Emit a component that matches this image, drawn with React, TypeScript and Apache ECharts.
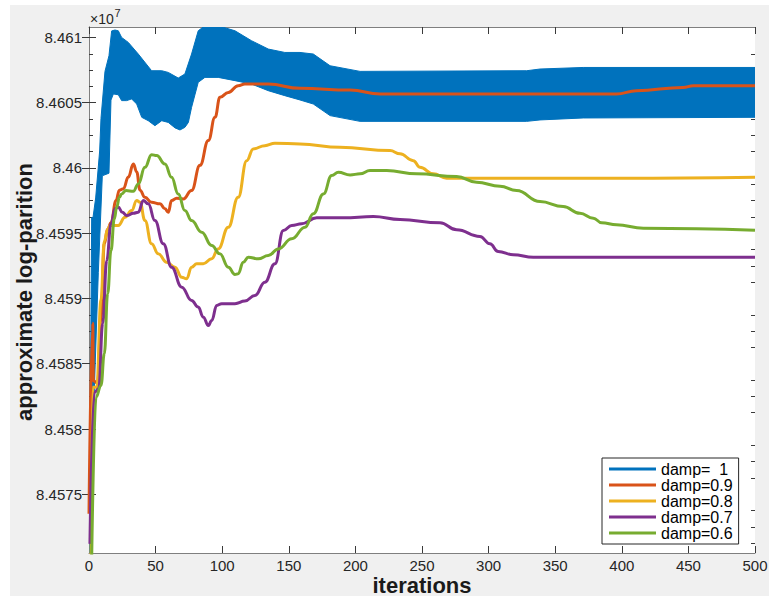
import React, { useEffect, useRef } from "react";
import * as echarts from "echarts";

// ---- data (values in units of 1e7) ----
const seriesNames = ["damp=  1", "damp=0.9", "damp=0.8", "damp=0.7", "damp=0.6"];

// damp = 1 oscillates every iteration: upper / lower envelopes of the band
const blueUpper = [
  [0.5, 8.45745], [2, 8.45962], [3, 8.45962], [5, 8.45977], [8, 8.46013], [9, 8.46038],
  [12, 8.46074], [15, 8.46086], [17, 8.46105], [19.5, 8.461057], [22, 8.461051], [24.5, 8.461],
  [29.5, 8.460962], [37, 8.460873], [47, 8.460745], [54.6, 8.460745], [59.5, 8.460732],
  [67, 8.460689], [72, 8.46072], [77, 8.460873], [82, 8.461051], [87, 8.46109], [97, 8.46109],
  [109.6, 8.461051], [122, 8.460975], [134.6, 8.460911], [147, 8.460885], [158.4, 8.460885],
  [168.4, 8.460873], [181, 8.460783], [203.5, 8.46074], [328.6, 8.460745], [338.6, 8.460758],
  [371, 8.46077], [500, 8.46077],
];
const blueLower = [
  [0.5, 8.45704], [2, 8.45757], [4, 8.4583], [7, 8.4592], [10, 8.45994], [15, 8.45996],
  [16.5, 8.46052], [18.3, 8.460567], [22, 8.460561], [24.5, 8.460516], [28.3, 8.460516],
  [32, 8.460529], [35.8, 8.46049], [39.6, 8.460388], [44.5, 8.460362], [49.5, 8.460324],
  [54.6, 8.460362], [59.5, 8.460349], [64.6, 8.460307], [68.3, 8.460291], [72, 8.460311],
  [74.6, 8.460349], [77, 8.460464], [82, 8.460656], [87, 8.460694], [97, 8.460694],
  [109.6, 8.460669], [122, 8.460643], [134.6, 8.460592], [147, 8.460554], [158.4, 8.460521],
  [168.4, 8.46049], [181, 8.460401], [203.5, 8.460357], [328.6, 8.460357], [338.6, 8.460368],
  [371, 8.460383], [500, 8.460388],
];
const damp09 = [
  [0, 8.45735], [2.8, 8.45881], [3.3, 8.45837], [6.5, 8.45835], [9, 8.45886], [11.5, 8.45942],
  [14, 8.45953], [16.5, 8.45958], [20.3, 8.45975], [22.8, 8.45983], [25.8, 8.45984],
  [29.5, 8.45993], [33.3, 8.46003], [35.8, 8.45997], [38.3, 8.45983], [42, 8.459775],
  [47, 8.459737], [53.3, 8.459725], [57, 8.459687], [59.5, 8.459661], [62, 8.45975],
  [65.8, 8.459768], [70.8, 8.459763], [77, 8.459827], [83.3, 8.46002], [89.6, 8.46021],
  [94.6, 8.460388], [98.3, 8.460541], [104.6, 8.460579], [112, 8.46063], [117, 8.460643],
  [134.6, 8.460643], [158.4, 8.46061], [196, 8.460597], [218.5, 8.460567], [396, 8.460567],
  [411, 8.460592], [446, 8.460617], [453.7, 8.46063], [500, 8.46063],
];
const damp08 = [
  [1.5, 8.45704], [2.8, 8.45832], [5.8, 8.45832], [9, 8.45899], [11.5, 8.45944], [14, 8.45953],
  [15.8, 8.459559], [22, 8.459559], [27, 8.459622], [32, 8.459674], [35.8, 8.45975],
  [38.3, 8.459737], [42, 8.459597], [47, 8.459419], [52, 8.459342], [58.3, 8.459278],
  [64.6, 8.45924], [69.6, 8.459163], [73.3, 8.459151], [77, 8.45924], [80.9, 8.459266],
  [85.8, 8.459266], [92.1, 8.459304], [97, 8.45938], [104.6, 8.459546], [112, 8.459775],
  [118.4, 8.460056], [123.3, 8.460146], [132, 8.460171], [139.6, 8.460189], [158.4, 8.460184],
  [188.4, 8.460158], [226, 8.460133], [233.5, 8.460108], [243.5, 8.460056], [248.5, 8.460005],
  [258.5, 8.459955], [268.5, 8.459921], [400, 8.459921], [500, 8.459929],
];
const damp07 = [
  [0.7, 8.45712], [4, 8.45828], [7.3, 8.45831], [10.3, 8.45881], [13.3, 8.45929], [16.5, 8.45957],
  [19.5, 8.459687], [22, 8.4597], [25, 8.45966], [28.3, 8.459635], [33.3, 8.459653],
  [37, 8.459661], [40.8, 8.45975], [44.5, 8.459725], [49.5, 8.459597], [55.8, 8.459419],
  [62, 8.45924], [69.6, 8.459087], [77, 8.458985], [82, 8.458934], [85.8, 8.458857],
  [89.6, 8.458793], [92.1, 8.458832], [95.9, 8.458947], [99.6, 8.45896], [109.6, 8.45896],
  [117, 8.45898], [124.6, 8.459023], [132, 8.459125], [139.6, 8.459266], [145.9, 8.459521],
  [152.2, 8.459559], [159.7, 8.459572], [171, 8.459618], [191, 8.459618], [213.5, 8.459628],
  [233.5, 8.459605], [263.5, 8.45958], [276, 8.459526], [293.5, 8.459475], [301, 8.459419],
  [307.2, 8.45936], [318.5, 8.459335], [333.6, 8.459316], [500, 8.459316],
];
const damp06 = [
  [2, 8.45700], [5.3, 8.458245], [9, 8.458334], [11.5, 8.458577], [14, 8.459036], [16.5, 8.459368],
  [19, 8.45961], [20.8, 8.459699], [22.8, 8.459775], [24.5, 8.459801], [27.8, 8.459827],
  [33.3, 8.459821], [37, 8.459878], [42, 8.460005], [47, 8.460102], [50.8, 8.460095],
  [57, 8.460031], [62, 8.459929], [67, 8.459801], [72, 8.459674], [77, 8.459597],
  [84.6, 8.459508], [92.1, 8.459406], [98.3, 8.459342], [104.6, 8.45924], [109.6, 8.459184],
  [112, 8.459189], [115.8, 8.459278], [119.6, 8.459316], [127.1, 8.459304], [134.6, 8.459329],
  [142.1, 8.45938], [152.2, 8.459457], [162.2, 8.459546], [168.4, 8.459649], [176, 8.459801],
  [182.2, 8.459942], [187.2, 8.459967], [196, 8.459947], [203.5, 8.459955], [211, 8.45998],
  [223.5, 8.45998], [246, 8.459955], [276, 8.459934], [291, 8.45989], [308.6, 8.45986],
  [321, 8.459827], [338.6, 8.459743], [356, 8.459704], [368.6, 8.459653], [378.6, 8.459615],
  [384.9, 8.45958], [396, 8.459565], [416.2, 8.459538], [500, 8.459523],
];

const yTickValues = [8.4575, 8.458, 8.4585, 8.459, 8.4595, 8.46, 8.4605, 8.461];
const xTickValues = [0, 50, 100, 150, 200, 250, 300, 350, 400, 450, 500];
const Y_MIN = 8.45705;
const Y_MAX = 8.46108;

const COLORS = ["#0072BD", "#D95319", "#EDB120", "#7E2F8E", "#77AC30"];
const FONT = "'Liberation Sans', Arial, Helvetica, sans-serif";

const yMinorTicks: number[] = [];
for (let i = -1; i < yTickValues.length; i++) {
  const base = i < 0 ? yTickValues[0] - 0.0005 : yTickValues[i];
  for (let k = 1; k <= 3; k++) {
    const v = +(base + k * 0.000125).toFixed(6);
    if (v > Y_MIN && v < Y_MAX) yMinorTicks.push(v);
  }
}

export default function App() {
  const ref = useRef<HTMLDivElement>(null);
  useEffect(() => {
    if (!ref.current) return;
    const chart = echarts.init(ref.current, undefined, { renderer: "svg" });
    const axisLineStyle = { color: "#7f7f7f", width: 1 };
    const tickStyle = { color: "#3a3a3a", width: 1 };
    const lineSeries = [damp09, damp08, damp07, damp06].map((d, i) => ({
      type: "line",
      name: seriesNames[i + 1],
      data: d,
      xAxisIndex: 0,
      yAxisIndex: 0,
      symbol: "none",
      showSymbol: false,
      smooth: 0.45,
      smoothMonotone: "x",
      clip: true,
      lineStyle: { color: COLORS[i + 1], width: 3 },
      itemStyle: { color: COLORS[i + 1] },
      z: 3 + i,
    }));
    const option: any = {
      animation: false,
      backgroundColor: "transparent",
      grid: {
        left: 89,
        right: 16,
        top: 27,
        bottom: 43,
        show: true,
        backgroundColor: "#ffffff",
        borderWidth: 0,
      },
      legend: {
        orient: "vertical",
        left: 602,
        top: 458,
        data: seriesNames,
        icon: "rect",
        itemWidth: 47,
        itemHeight: 3,
        itemGap: 0,
        padding: [3, 6, 3, 7],
        backgroundColor: "#ffffff",
        borderColor: "#262626",
        borderWidth: 1,
        borderRadius: 0,
        selectedMode: false,
        textStyle: { fontSize: 16, color: "#000", fontFamily: FONT, lineHeight: 16 },
      },
      xAxis: [
        {
          type: "value",
          position: "bottom",
          min: 0,
          max: 500,
          interval: 50,
          axisLine: { show: true, lineStyle: axisLineStyle },
          axisTick: { show: true, inside: true, length: 7, lineStyle: tickStyle, customValues: xTickValues },
          axisLabel: {
            show: true,
            margin: 5,
            fontSize: 15,
            lineHeight: 14,
            color: "#262626",
            fontFamily: FONT,
            customValues: xTickValues,
          },
          splitLine: { show: false },
        },
        {
          type: "value",
          position: "top",
          min: 0,
          max: 500,
          interval: 50,
          axisLine: { show: true, lineStyle: axisLineStyle },
          axisTick: { show: true, inside: true, length: 7, lineStyle: tickStyle },
          axisLabel: { show: false },
          splitLine: { show: false },
        },
      ],
      yAxis: [
        {
          type: "value",
          position: "left",
          min: Y_MIN,
          max: Y_MAX,
          axisLine: { show: true, lineStyle: axisLineStyle },
          axisTick: { show: true, inside: true, length: 7, lineStyle: tickStyle, customValues: yTickValues },
          axisLabel: {
            show: true,
            margin: 7,
            fontSize: 15,
            color: "#262626",
            fontFamily: FONT,
            customValues: yTickValues,
            formatter: (v: number) => String(+v.toFixed(5)),
          },
          splitLine: { show: false },
        },
        {
          type: "value",
          position: "right",
          min: Y_MIN,
          max: Y_MAX,
          axisLine: { show: true, lineStyle: axisLineStyle },
          axisTick: { show: true, inside: true, length: 7, lineStyle: tickStyle, customValues: yTickValues },
          axisLabel: { show: false },
          splitLine: { show: false },
        },
        {
          type: "value",
          position: "left",
          min: Y_MIN,
          max: Y_MAX,
          axisLine: { show: false },
          axisTick: { show: true, inside: true, length: 4, lineStyle: tickStyle, customValues: yMinorTicks },
          axisLabel: { show: false },
          splitLine: { show: false },
        },
        {
          type: "value",
          position: "right",
          min: Y_MIN,
          max: Y_MAX,
          axisLine: { show: false },
          axisTick: { show: true, inside: true, length: 4, lineStyle: tickStyle, customValues: yMinorTicks },
          axisLabel: { show: false },
          splitLine: { show: false },
        },
      ],
      graphic: [
        {
          type: "text",
          x: 90,
          y: 19,
          style: { text: "×10", font: `14px ${FONT}`, fill: "#262626", align: "left", verticalAlign: "middle" },
        },
        {
          type: "text",
          x: 114.5,
          y: 12.5,
          style: { text: "7", font: `11px ${FONT}`, fill: "#262626", align: "left", verticalAlign: "middle" },
        },
        {
          type: "text",
          x: 422,
          y: 585,
          style: {
            text: "iterations",
            font: `bold 22px ${FONT}`,
            lineHeight: 16,
            fill: "#1a1a1a",
            align: "center",
            verticalAlign: "middle",
          },
        },
        {
          type: "text",
          x: 24,
          y: 292,
          rotation: Math.PI / 2,
          style: {
            text: "approximate log-parition",
            font: `bold 22px ${FONT}`,
            fill: "#1a1a1a",
            align: "center",
            verticalAlign: "middle",
          },
        },
      ],
      series: [
        {
          type: "custom",
          name: seriesNames[0],
          coordinateSystem: "cartesian2d",
          xAxisIndex: 0,
          yAxisIndex: 0,
          data: blueUpper,
          clip: true,
          itemStyle: { color: COLORS[0] },
          z: 2,
          renderItem: (params: any, api: any) => {
            if (params.dataIndex !== 0) return null;
            const pts = [
              ...blueUpper.map((p) => api.coord(p)),
              ...blueLower.slice().reverse().map((p) => api.coord(p)),
            ];
            return {
              type: "polygon",
              shape: { points: pts },
              style: { fill: COLORS[0], stroke: COLORS[0], lineWidth: 1 },
            };
          },
        },
        ...lineSeries,
      ],
    };
    chart.setOption(option);
    return () => chart.dispose();
  }, []);

  return (
    <div style={{ position: "fixed", left: 0, top: 0, width: 771, height: 596, background: "#ffffff" }}>
      <div style={{ position: "absolute", left: 10, top: 5, width: 759, height: 591, background: "#f0f0f0" }} />
      <div ref={ref} style={{ position: "absolute", left: 0, top: 0, width: 771, height: 596 }} />
    </div>
  );
}
